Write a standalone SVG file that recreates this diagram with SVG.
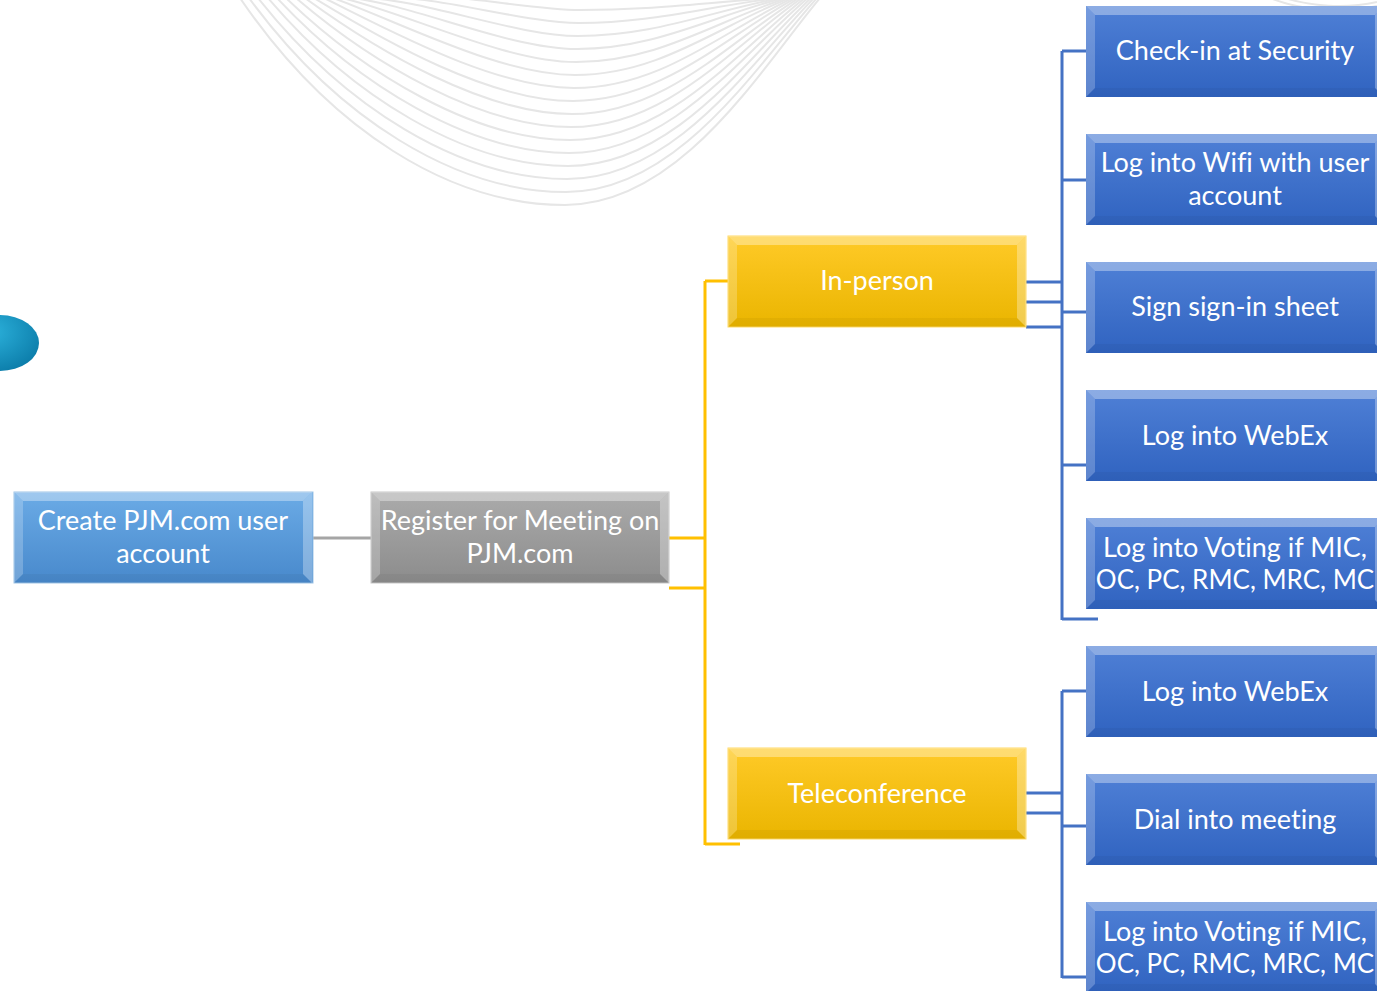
<svg xmlns="http://www.w3.org/2000/svg" width="1377" height="991" viewBox="0 0 1377 991">
<style>
.t{font-family:Lato,"Liberation Sans",sans-serif;font-size:27px;fill:#fff;text-anchor:middle;font-variant-ligatures:none}
.s{font-size:26px}
.deco{fill:none;stroke:#E6E6E6;stroke-width:2}
.gold{fill:none;stroke:#FFC000;stroke-width:3}
.blu{fill:none;stroke:#4472C4;stroke-width:3}
.gry{fill:none;stroke:#A5A5A5;stroke-width:3}
</style>
<defs>
<linearGradient id="gBlue" x1="0" y1="0" x2="0" y2="1"><stop offset="0" stop-color="#4F80D6"/><stop offset="1" stop-color="#3063C0"/></linearGradient>
<linearGradient id="gLight" x1="0" y1="0" x2="0" y2="1"><stop offset="0" stop-color="#6BABE6"/><stop offset="1" stop-color="#4889CC"/></linearGradient>
<linearGradient id="gGrey" x1="0" y1="0" x2="0" y2="1"><stop offset="0" stop-color="#ABABAB"/><stop offset="1" stop-color="#8C8C8C"/></linearGradient>
<linearGradient id="gGold" x1="0" y1="0" x2="0" y2="1"><stop offset="0" stop-color="#FFCA28"/><stop offset="1" stop-color="#EAB500"/></linearGradient>
<radialGradient id="gBall" cx="0.35" cy="0.3" r="0.8"><stop offset="0" stop-color="#2DB3DD"/><stop offset="1" stop-color="#0A7AA7"/></radialGradient>
<g id="bevel">
<path d="M0,0 L298,0 L289,9 L9,9 Z" fill="#fff" fill-opacity="0.35"/>
<path d="M0,0 L9,9 L9,82 L0,91 Z" fill="#fff" fill-opacity="0.22"/>
<path d="M298,0 L298,91 L289,82 L289,9 Z" fill="#fff" fill-opacity="0.3"/>
<path d="M0,91 L298,91 L289,82 L9,82 Z" fill="#000" fill-opacity="0.04"/>
</g>
</defs>
<rect width="1377" height="991" fill="#fff"/>
<g id="decoration">
<path class="deco" d="M240,-2 C330,130 450,205 565,205 C680,205 760,70 820,-2"/>
<path class="deco" d="M249,-2 C337,118 455,192 566,192 C678,192 756,66 817,-2"/>
<path class="deco" d="M258,-2 C344,107 460,179 567,179 C676,179 752,61 814,-2"/>
<path class="deco" d="M268,-2 C351,96 465,166 568,166 C674,166 748,57 811,-2"/>
<path class="deco" d="M277,-2 C358,85 470,153 569,153 C672,153 744,52 808,-2"/>
<path class="deco" d="M286,-2 C365,74 475,140 570,140 C670,140 740,48 805,-2"/>
<path class="deco" d="M296,-2 C372,63 480,127 571,127 C668,127 736,43 802,-2"/>
<path class="deco" d="M305,-2 C379,52 485,114 572,114 C666,114 732,39 799,-2"/>
<path class="deco" d="M314,-2 C386,42 490,101 573,101 C664,101 728,34 796,-2"/>
<path class="deco" d="M324,-2 C393,32 495,88 574,88 C662,88 724,30 793,-2"/>
<path class="deco" d="M333,-2 C400,22 500,75 575,75 C660,75 720,25 790,-2"/>
<path class="deco" d="M342,-2 C407,13 505,62 576,62 C658,62 716,21 787,-2"/>
<path class="deco" d="M352,-2 C414,5 510,49 577,49 C656,49 712,16 784,-2"/>
<path class="deco" d="M361,-2 C421,-2 515,36 578,36 C654,36 708,12 781,-2"/>
<path class="deco" d="M370,-2 C428,-8 520,23 579,23 C652,23 704,7 778,-2"/>
<path class="deco" d="M380,-2 C435,-12 525,10 580,10 C650,10 700,3 775,-2"/>
<path class="deco" d="M1270,-2 C1300,10 1340,14 1377,6"/>
<path class="deco" d="M1285,-2 C1310,6 1345,9 1377,2"/>
</g>
<ellipse id="ball" cx="0" cy="343" rx="39" ry="28" fill="url(#gBall)"/>
<g id="connectors">
<path class="gry" d="M313,538 H371"/>
<path class="gold" d="M669,538 H705 M669,588 H705 M705,281 V845 M705,281 H728 M705,844 H740"/>
<path class="blu" d="M1026,282 H1062 M1026,302 H1062 M1026,327 H1062 M1062,51 V620 M1062,51 H1086 M1062,180 H1086 M1062,312 H1086 M1062,465 H1086 M1062,619 H1098"/>
<path class="blu" d="M1026,793 H1062 M1026,813 H1062 M1062,691 V978 M1062,691 H1086 M1062,826 H1086 M1062,977 H1086"/>
</g>
<g id="n-create"><rect x="14" y="492" width="299" height="91" fill="url(#gLight)" stroke="#9DC3E6" stroke-width="1"/><use href="#bevel" x="14" y="492"/><text class="t" x="163" y="530">Create PJM.com user</text><text class="t" x="163" y="563">account</text></g>
<g id="n-register"><rect x="371" y="492" width="298" height="91" fill="url(#gGrey)" stroke="#C8C8C8" stroke-width="1"/><use href="#bevel" x="371" y="492"/><text class="t" x="520" y="530">Register for Meeting on</text><text class="t" x="520" y="563">PJM.com</text></g>
<g id="n-inperson"><rect x="728" y="236" width="298" height="91" fill="url(#gGold)" stroke="#FFD966" stroke-width="1"/><use href="#bevel" x="728" y="236"/><text class="t" x="877" y="290">In-person</text></g>
<g id="n-tele"><rect x="728" y="748" width="298" height="91" fill="url(#gGold)" stroke="#FFD966" stroke-width="1"/><use href="#bevel" x="728" y="748"/><text class="t" x="877" y="803">Teleconference</text></g>
<g id="n-security"><rect x="1086" y="6" width="298" height="91" fill="url(#gBlue)"/><use href="#bevel" x="1086" y="6"/><text class="t" x="1235" y="60">Check-in at Security</text></g>
<g id="n-wifi"><rect x="1086" y="134" width="298" height="91" fill="url(#gBlue)"/><use href="#bevel" x="1086" y="134"/><text class="t" x="1235" y="172">Log into Wifi with user</text><text class="t" x="1235" y="205">account</text></g>
<g id="n-sign"><rect x="1086" y="262" width="298" height="91" fill="url(#gBlue)"/><use href="#bevel" x="1086" y="262"/><text class="t" x="1235" y="316">Sign sign-in sheet</text></g>
<g id="n-webex1"><rect x="1086" y="390" width="298" height="91" fill="url(#gBlue)"/><use href="#bevel" x="1086" y="390"/><text class="t" x="1235" y="445">Log into WebEx</text></g>
<g id="n-voting1"><rect x="1086" y="518" width="298" height="91" fill="url(#gBlue)"/><use href="#bevel" x="1086" y="518"/><text class="t" x="1235" y="557">Log into Voting if MIC,</text><text class="t s" x="1235" y="589">OC, PC, RMC, MRC, MC</text></g>
<g id="n-webex2"><rect x="1086" y="646" width="298" height="91" fill="url(#gBlue)"/><use href="#bevel" x="1086" y="646"/><text class="t" x="1235" y="701">Log into WebEx</text></g>
<g id="n-dial"><rect x="1086" y="774" width="298" height="91" fill="url(#gBlue)"/><use href="#bevel" x="1086" y="774"/><text class="t" x="1235" y="829">Dial into meeting</text></g>
<g id="n-voting2"><rect x="1086" y="902" width="298" height="91" fill="url(#gBlue)"/><use href="#bevel" x="1086" y="902"/><text class="t" x="1235" y="941">Log into Voting if MIC,</text><text class="t s" x="1235" y="973">OC, PC, RMC, MRC, MC</text></g>
</svg>
